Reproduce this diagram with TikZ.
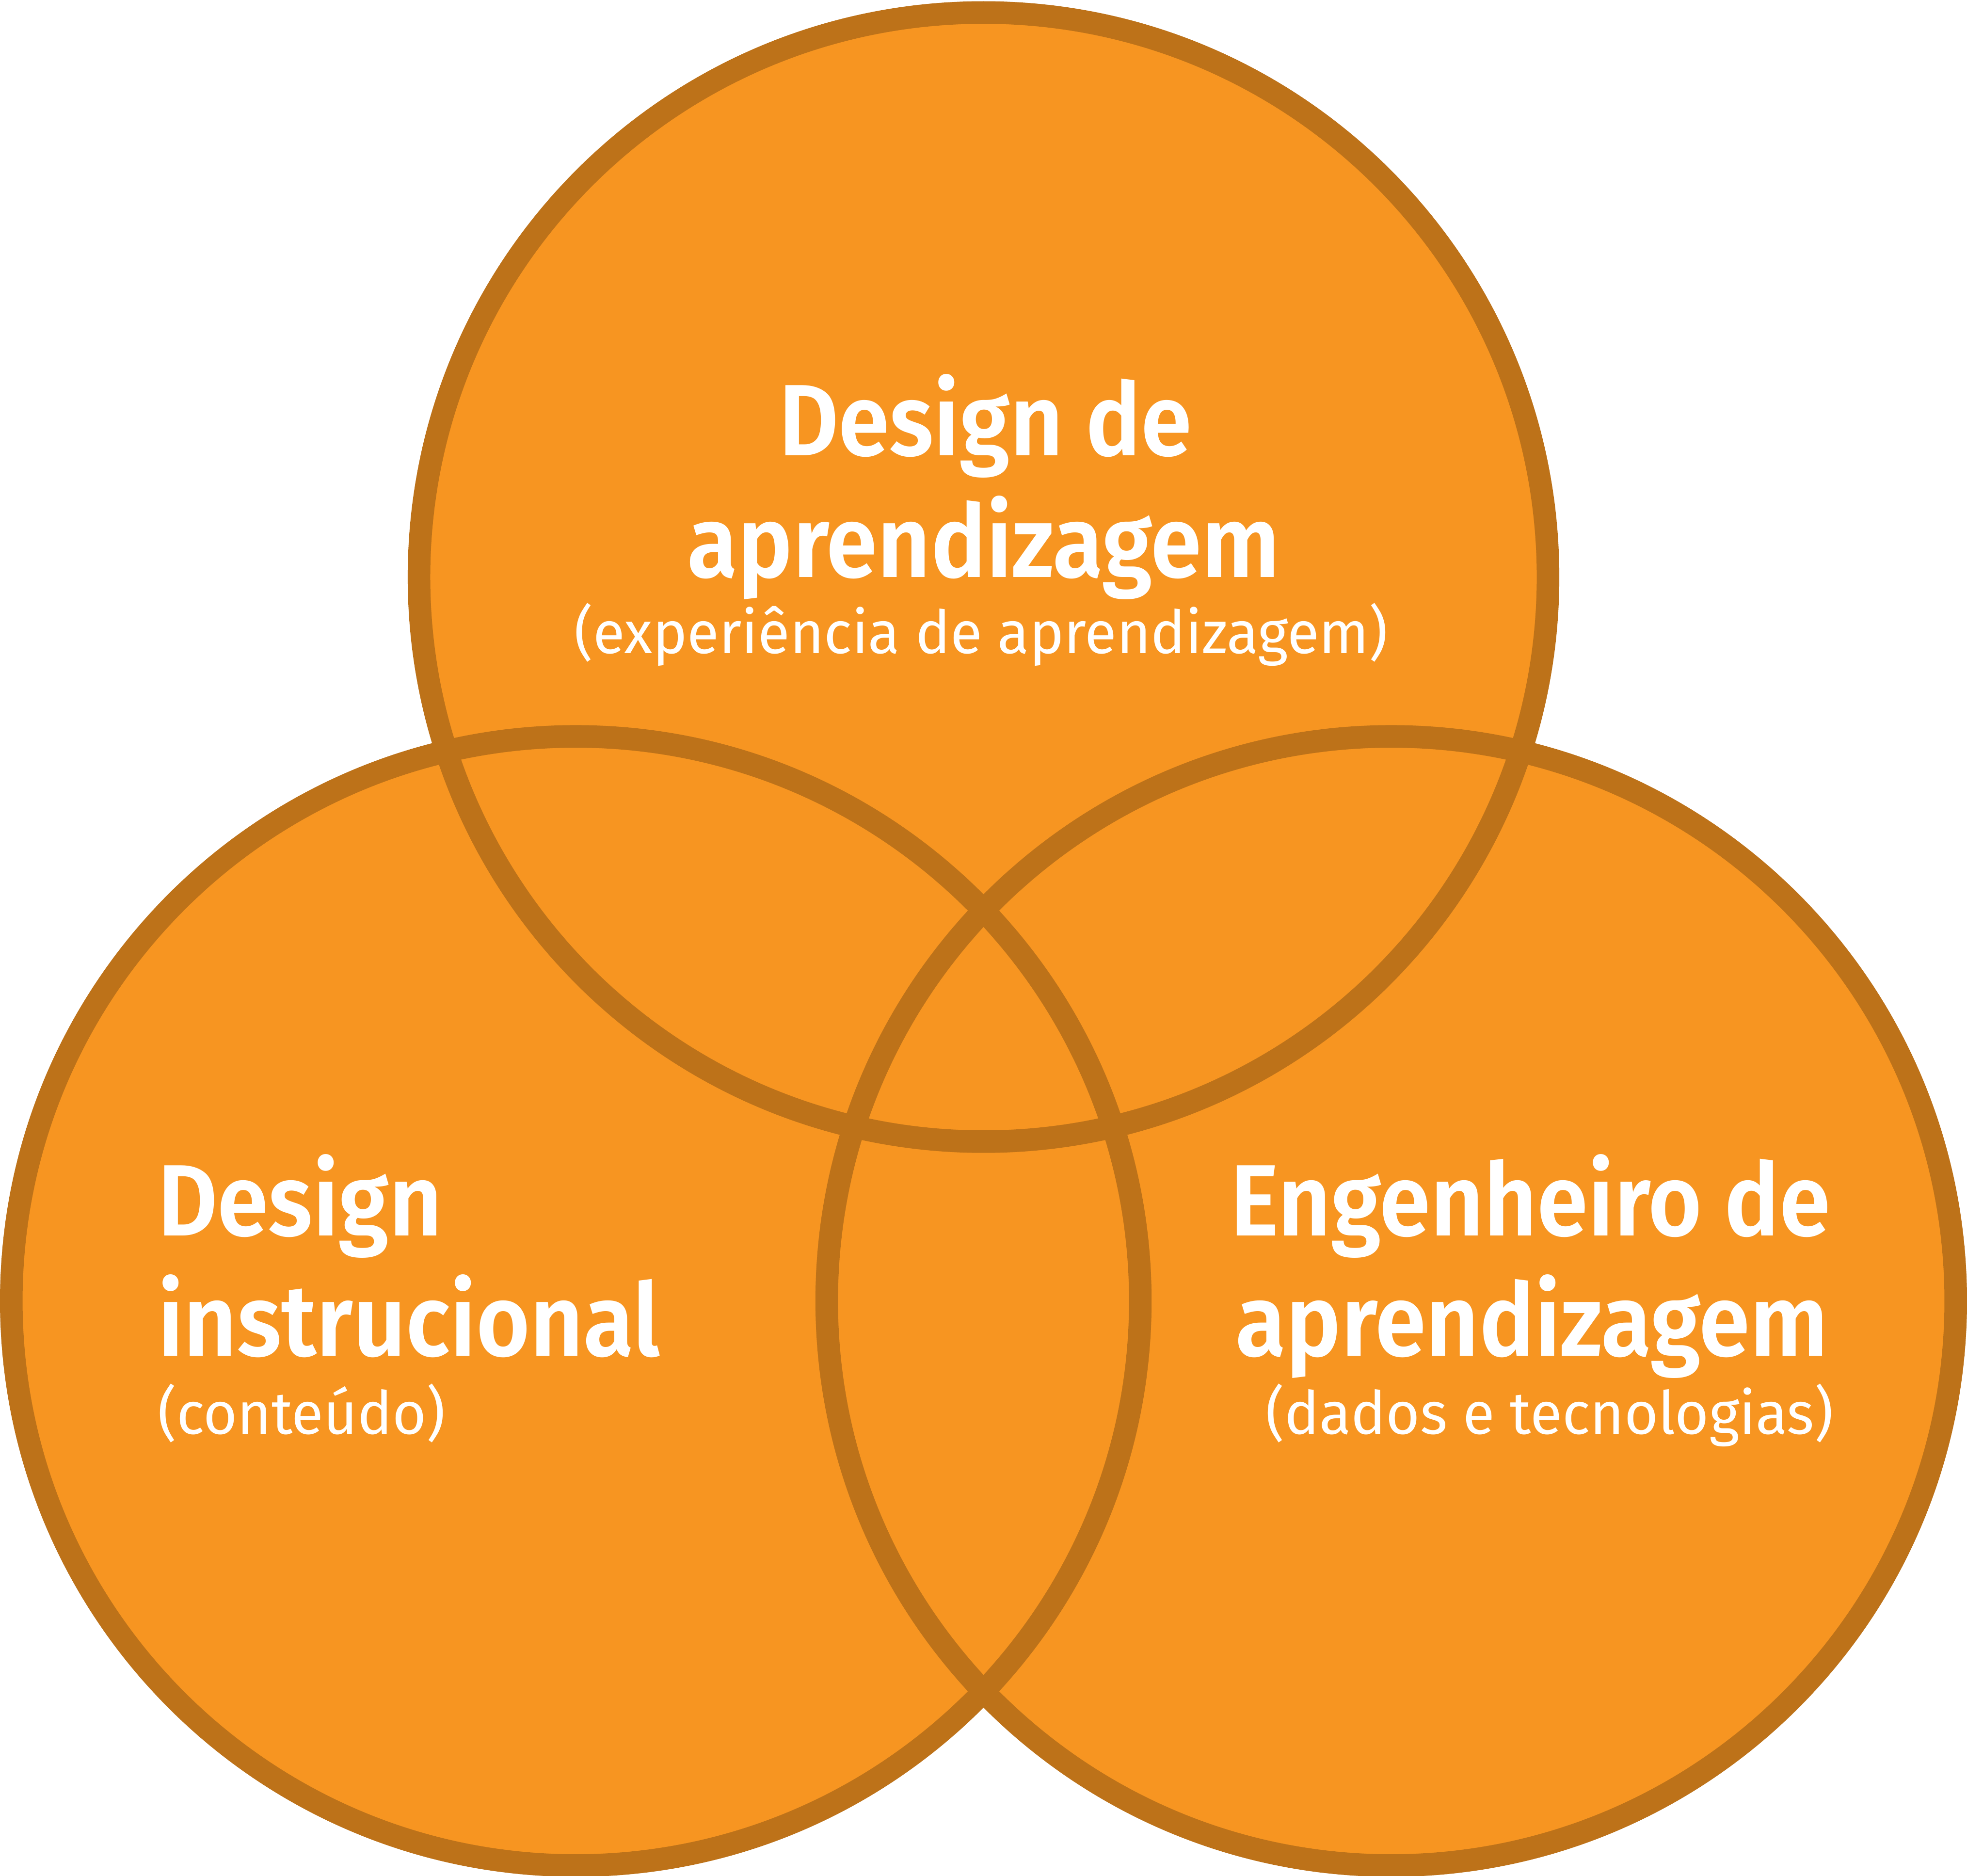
\documentclass[tikz,border=0pt]{standalone}
\usepackage{fontspec}
\setmainfont{Fira Sans}
\newfontfamily\titlefont{Fira Sans}[UprightFont=* SemiBold, FakeStretch=0.91]
\newfontfamily\subfont{Fira Sans}[FakeStretch=0.98]
\definecolor{fillorange}{HTML}{F79521}
\definecolor{rimbrown}{HTML}{BD7219}
\begin{document}
\begin{tikzpicture}[
  ttl/.style={text=white, inner sep=0pt, font=\titlefont\fontsize{23}{23}\selectfont},
  sub/.style={text=white, inner sep=0pt, font=\subfont\fontsize{13.5}{13.5}\selectfont},
  rim/.style={draw=rimbrown, line width=0.18cm}
]
\useasboundingbox (0,0) rectangle (15.68,14.953);
\coordinate (ct) at (7.84,10.353);
\coordinate (cl) at (4.59,4.583);
\coordinate (cr) at (11.09,4.583);
\fill[fillorange] (ct) circle (4.50);
\fill[fillorange] (cl) circle (4.50);
\fill[fillorange] (cr) circle (4.50);
\draw[rim] (ct) circle (4.50);
\draw[rim] (cl) circle (4.50);
\draw[rim] (cr) circle (4.50);
% top
\node[ttl, anchor=base] (t1) at (7.855,11.323) {Design de};
\node[ttl, anchor=base] (t2) at (7.84,10.353) {aprendizagem};
\node[sub, anchor=base] (t3) at (7.82,9.743) {(experiência de aprendizagem)};
% left
\node[ttl, anchor=base west] (l1) at (1.25,5.103) {Design};
\node[ttl, anchor=base west] (l2) at (1.25,4.143) {instrucional};
\node[sub, anchor=base west] (l3) at (1.25,3.523) {(conteúdo)};
% right
\node[ttl, anchor=base east] (r1) at (14.60,5.103) {Engenheiro de};
\node[ttl, anchor=base east] (r2) at (14.58,4.143) {aprendizagem};
\node[sub, anchor=base east] (r3) at (14.62,3.523) {(dados e tecnologias)};
\end{tikzpicture}
\end{document}
